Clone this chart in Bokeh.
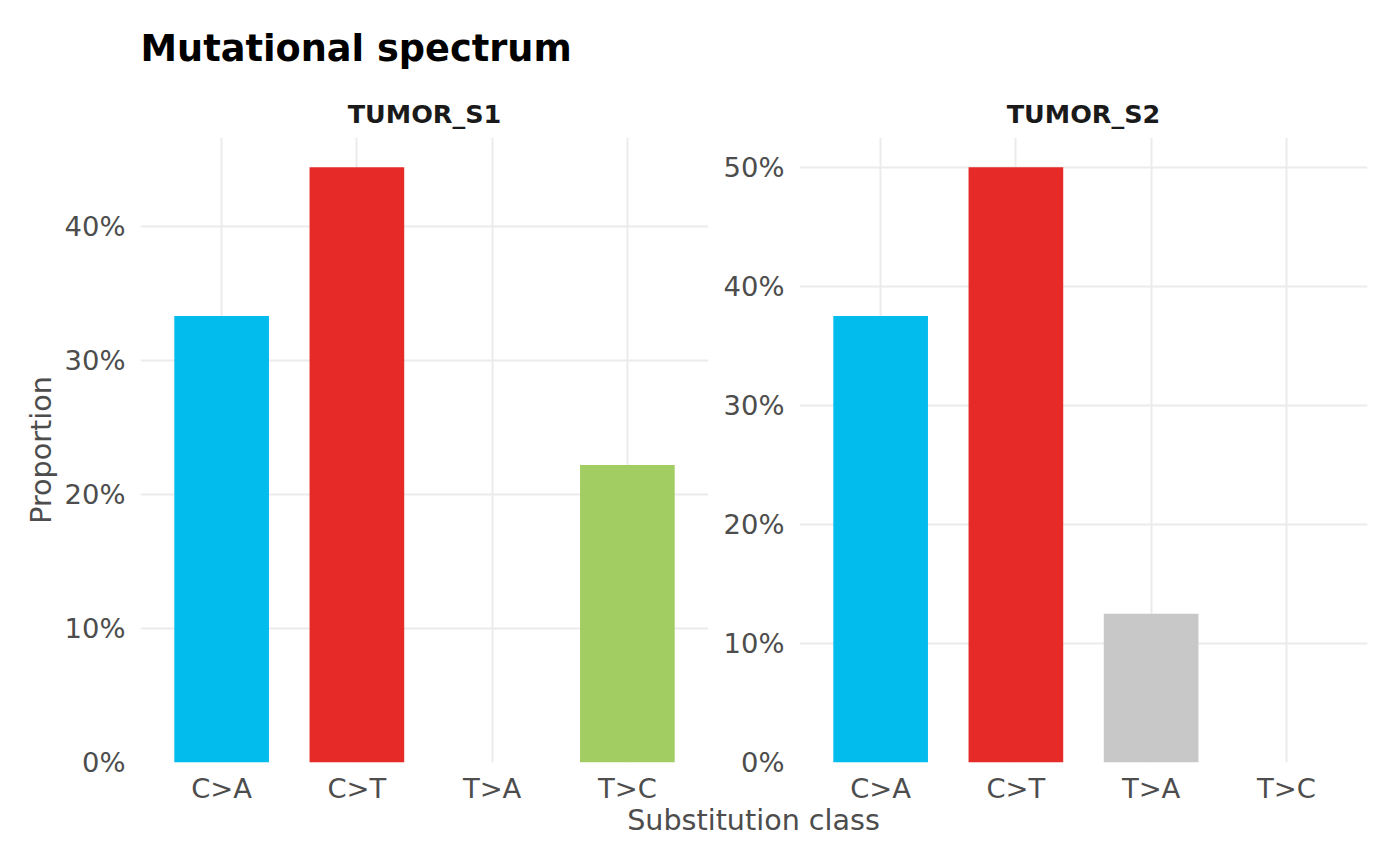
from bokeh.plotting import figure
from bokeh.models import (ColumnDataSource, FactorRange, Range1d, FixedTicker,
                          NumeralTickFormatter, Title, Div)
from bokeh.layouts import row, column
from bokeh.embed import file_html
from bokeh.resources import INLINE

# ---- data ----
categories = ["C>A", "C>T", "T>A", "T>C"]
colors = ["#03BCEE", "#E62A27", "#C8C8C8", "#A2CD63"]
samples = ["TUMOR_S1", "TUMOR_S2"]
s1_values = [3 / 9, 4 / 9, 0.0, 2 / 9]
s2_values = [3 / 8, 4 / 8, 1 / 8, 0.0]
s1_ticks = [0.0, 0.1, 0.2, 0.3, 0.4]
s2_ticks = [0.0, 0.1, 0.2, 0.3, 0.4, 0.5]

FONT = "DejaVu Sans"
GRID = "#EBEBEB"
TXT = "#4D4D4D"


def panel(name, values, ticks, left_border, right_border, main_title=None,
          y_label=None):
    src = ColumnDataSource(dict(x=categories, top=values, color=colors))
    p = figure(x_range=FactorRange(*categories, range_padding=0.1,
                                   range_padding_units="absolute"),
               y_range=Range1d(0, max(values) * 1.05),
               frame_width=568, frame_height=625,
               min_border_left=left_border, min_border_right=right_border,
               min_border_top=137, min_border_bottom=42,
               output_backend="svg", toolbar_location=None, title=None)
    p.vbar(x="x", top="top", width=0.7, color="color", line_color=None,
           source=src)
    p.outline_line_color = None
    p.background_fill_color = "white"
    p.border_fill_color = "white"
    for ax in (p.xaxis[0], p.yaxis[0]):
        ax.axis_line_color = None
        ax.major_tick_line_color = None
        ax.minor_tick_line_color = None
        ax.major_tick_out = 0
        ax.major_tick_in = 0
        ax.minor_tick_out = 0
        ax.major_label_text_font = FONT
        ax.major_label_text_font_size = "27.4px"
        ax.major_label_text_color = TXT
    p.xaxis.major_label_standoff = 10
    p.yaxis.major_label_standoff = 15
    p.yaxis.ticker = FixedTicker(ticks=ticks)
    p.yaxis.formatter = NumeralTickFormatter(format="0%")
    p.xgrid.grid_line_color = GRID
    p.ygrid.grid_line_color = GRID
    p.xgrid.grid_line_width = 2
    p.ygrid.grid_line_width = 2
    p.ygrid.minor_grid_line_color = None
    if y_label:
        p.yaxis.axis_label = y_label
        p.yaxis.axis_label_text_font = FONT
        p.yaxis.axis_label_text_font_size = "28.6px"
        p.yaxis.axis_label_text_font_style = "normal"
        p.yaxis.axis_label_text_color = TXT
        p.yaxis.axis_label_standoff = 4
    p.add_layout(Title(text=name, align="center", text_font=FONT,
                       text_font_size="25.5px", text_font_style="bold",
                       text_color="#1A1A1A", standoff=17), "above")
    if main_title:
        p.add_layout(Title(text=main_title, align="left", text_font=FONT,
                           text_font_size="36.7px", text_font_style="bold",
                           text_color="#000000", standoff=37), "above")
    return p


p1 = panel(samples[0], s1_values, s1_ticks, 140, 0,
           main_title="Mutational spectrum", y_label="Proportion")
p2 = panel(samples[1], s2_values, s2_ticks, 91, 16)

xlabel = Div(text='<div style="font-family:\'DejaVu Sans\';font-size:28.6px;'
                  'color:#4D4D4D;text-align:center;padding-left:114px;'
                  'width:1383px;box-sizing:border-box;position:relative;top:-7px;'
                  'line-height:32px;white-space:nowrap;">Substitution class</div>',
             width=1383, height=44)

layout = column(row(p1, p2, spacing=0), xlabel, spacing=0)

open("out.html", "w").write(file_html(layout, INLINE))
